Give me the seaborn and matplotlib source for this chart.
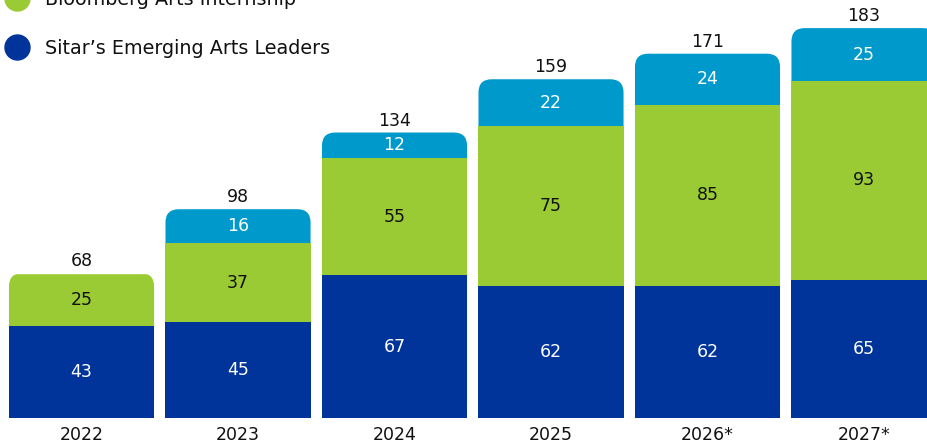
import numpy as np
import seaborn as sns
import matplotlib.pyplot as plt
from matplotlib.patches import FancyBboxPatch
from matplotlib.lines import Line2D

years = ["2022", "2023", "2024", "2025", "2026*", "2027*"]
sitar = np.array([43, 45, 67, 62, 62, 65])
bloomberg = np.array([25, 37, 55, 75, 85, 93])
third = np.array([0, 16, 12, 22, 24, 25])
totals = sitar + bloomberg + third

c_dark = "#00349A"
c_green = "#9BCB34"
c_light = "#0099CC"

sns.set_style("white")
plt.rcParams["font.family"] = ["DejaVu Sans"]

fig = plt.figure(figsize=(9.28, 4.44), dpi=100)
ax = fig.add_axes([0, 26 / 444, 1, 1 - 26 / 444])

w = 0.927
sns.barplot(x=years, y=sitar, color=c_dark, saturation=1, width=w, ax=ax)
sns.barplot(x=years, y=bloomberg, bottom=sitar, color=c_green, saturation=1, width=w, ax=ax)
sns.barplot(x=years, y=third, bottom=sitar + bloomberg, color=c_light, saturation=1, width=w, ax=ax)

bars = list(ax.patches)
layers = [bars[i * len(years):(i + 1) * len(years)] for i in range(3)]

ax.set_xlim(-0.521, 5.409)
ax.set_ylim(0, 196.2)

# round top corners: redraw top segment as rounded box from 0 up, lower segments cover it
for i in range(len(years)):
    top = layers[2][i] if third[i] > 0 else layers[1][i]
    fb = FancyBboxPatch((top.get_x(), 0), top.get_width(), totals[i],
                        boxstyle="round,pad=0,rounding_size=0.085",
                        mutation_aspect=73, facecolor=top.get_facecolor(),
                        edgecolor="none", zorder=0.5)
    top.set_visible(False)
    ax.add_patch(fb)

for p in layers[0] + layers[1]:
    p.set_zorder(1)
    p.set_edgecolor("none")

fs = 12.5
for i in range(len(years)):
    ax.text(i, sitar[i] / 2, str(sitar[i]), ha="center", va="center", color="white", fontsize=fs, zorder=3)
    ax.text(i, sitar[i] + bloomberg[i] / 2, str(bloomberg[i]), ha="center", va="center", color="#111111", fontsize=fs, zorder=3)
    if third[i] > 0:
        ax.text(i, sitar[i] + bloomberg[i] + third[i] / 2, str(third[i]), ha="center", va="center", color="white", fontsize=fs, zorder=3)
    ax.annotate(str(totals[i]), (i, totals[i]), xytext=(0, 2), textcoords="offset points",
                ha="center", va="bottom", color="#111111", fontsize=fs)

ax.tick_params(axis="x", length=0, pad=6, labelsize=fs, labelcolor="#111111")
ax.set_yticks([])
ax.set_xlabel("")
sns.despine(ax=ax, left=True, bottom=True)

handles = [Line2D([], [], marker="o", linestyle="none", markersize=18, color=c_green),
           Line2D([], [], marker="o", linestyle="none", markersize=18, color=c_dark)]
fig.legend(handles, ["Bloomberg Arts Internship", "Sitar\u2019s Emerging Arts Leaders"],
           loc="center left", bbox_to_anchor=(7 / 928, 1 - 24 / 444), frameon=False,
           fontsize=13.8, handlelength=1, handletextpad=1.0, labelspacing=1.55,
           borderpad=0, borderaxespad=0, labelcolor="#111111")

fig.savefig("out.png", dpi=100)
